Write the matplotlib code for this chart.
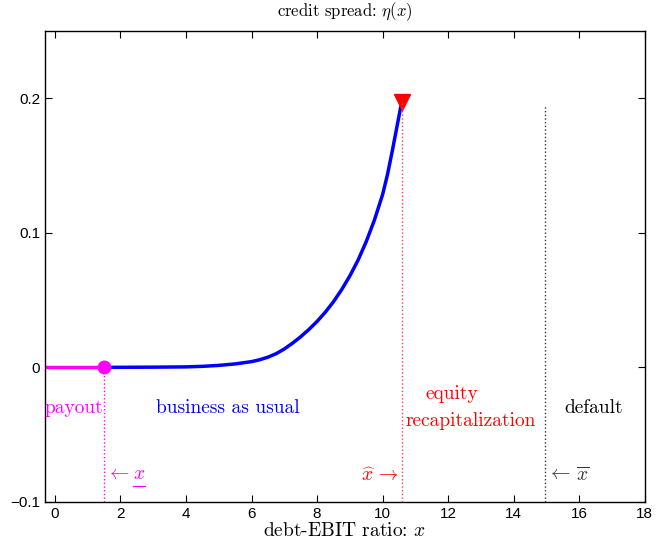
import matplotlib
matplotlib.use("Agg")
import matplotlib.pyplot as plt

plt.rcParams['mathtext.fontset'] = 'cm'

# values
x_low = 1.5      # payout boundary
x_hat = 10.58    # recapitalization boundary
x_bar = 14.94    # default boundary
eta_top = 0.197

payout_x = [-0.3, 1.5]
payout_y = [0.0, 0.0]

curve_x = [1.5, 2, 3, 4, 4.5, 5, 5.5, 6, 6.25, 6.5, 6.75, 7, 7.25, 7.5, 7.75,
           8, 8.25, 8.5, 8.75, 9, 9.25, 9.5, 9.75, 10, 10.15, 10.3, 10.45, 10.58]
curve_y = [0.0, 0.0001, 0.0002, 0.0004, 0.0008, 0.0015, 0.0026, 0.0043, 0.0057,
           0.0076, 0.0102, 0.0137, 0.018, 0.0228, 0.0282, 0.0342, 0.041, 0.0488,
           0.0578, 0.068, 0.0797, 0.0935, 0.1095, 0.1285, 0.1435, 0.1615,
           0.1805, 0.197]

xticks = list(range(0, 19, 2))
yticks = [-0.1, 0, 0.1, 0.2]
yticklabels = ['\u22120.1', '0', '0.1', '0.2']

fig = plt.figure(figsize=(6.58, 5.41), dpi=100)
ax = fig.add_axes([0.0684, 0.0721, 0.9116, 0.8706])

ax.plot(payout_x, payout_y, color='#ff00ff', lw=2.5)
ax.plot(curve_x, curve_y, color='#0000ff', lw=2.5)
ax.plot([x_low], [0], 'o', color='#ff00ff', ms=9)
ax.plot([x_hat], [eta_top], 'v', color='#ff0000', ms=11)

ax.plot([x_low, x_low], [-0.1, 0], ':', color='#ff00ff', lw=1)
ax.plot([x_hat, x_hat], [-0.1, eta_top], ':', color='#ff4040', lw=1)
ax.plot([x_bar, x_bar], [-0.1, 0.195], ':', color='#333333', lw=1)

tf = dict(fontfamily='cmr10', fontsize=14)
ax.text(-0.3, -0.030, 'payout', color='#ff00ff', ha='left', va='center', **tf)
ax.text(5.28, -0.030, 'business as usual', color='#0000ff', ha='center', va='center', **tf)
ax.text(12.1, -0.0196, 'equity', color='#ff0000', ha='center', va='center', **tf)
ax.text(12.68, -0.0396, 'recapitalization', color='#ff0000', ha='center', va='center', **tf)
ax.text(16.43, -0.030, 'default', color='black', ha='center', va='center', **tf)
ax.text(1.55, -0.079, r'$\leftarrow$', color='#ff00ff', ha='left', va='center', fontsize=14)
xl = ax.text(2.38, -0.079, r'$x$', color='#ff00ff', ha='left', va='center', fontsize=14)
ax.text(10.5, -0.080, r'$\widehat{x}\,\rightarrow$', color='#ff0000', ha='right', va='center', fontsize=14)
ax.text(15.0, -0.080, r'$\leftarrow\,\overline{x}$', color='#333333', ha='left', va='center', fontsize=14)

ax.set_xlim(-0.3, 18)
ax.set_ylim(-0.1, 0.25)
ax.set_xticks(xticks)
ax.set_yticks(yticks)
ax.set_yticklabels(yticklabels)
ax.tick_params(direction='in', top=True, right=True, length=5, labelsize=11, width=0.8)
for lab in ax.get_xticklabels() + ax.get_yticklabels():
    lab.set_fontfamily('Liberation Sans')
for s in ax.spines.values():
    s.set_linewidth(1.0)

ax.set_title(r'credit spread: $\eta(x)$', fontfamily='cmr10', fontsize=12, pad=11)
ax.set_xlabel(r'debt-EBIT ratio: $x$', fontfamily='cmr10', fontsize=14, labelpad=1)

# underline under the x of the lower boundary label (mathtext has no \underline)
fig.canvas.draw()
bb = xl.get_window_extent().transformed(ax.transData.inverted())
ax.plot([bb.x0, bb.x1], [bb.y0 - 0.002, bb.y0 - 0.002], color='#ff00ff', lw=0.9)

fig.savefig('out.png', dpi=100)
